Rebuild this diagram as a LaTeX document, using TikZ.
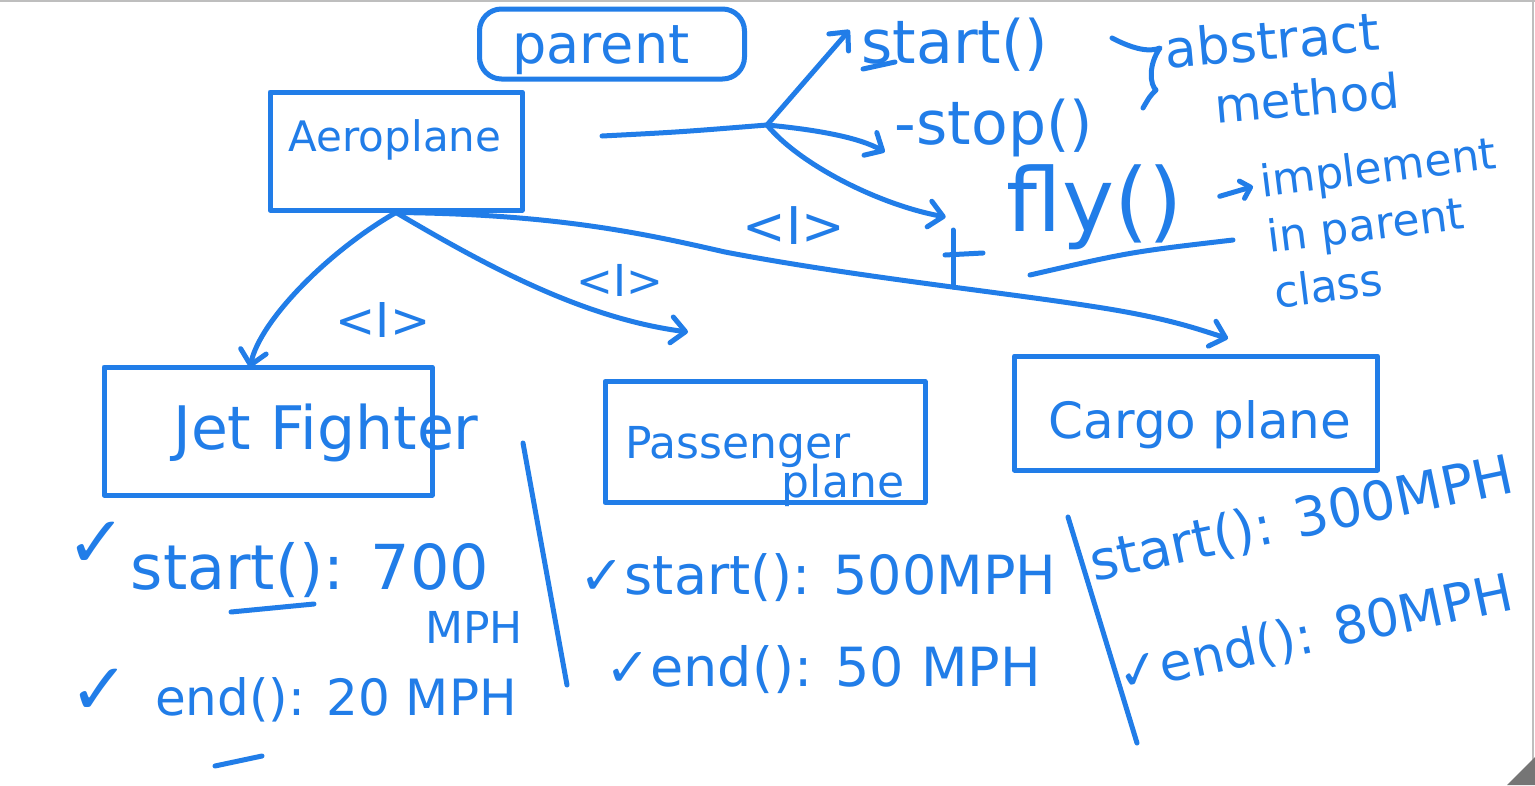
\documentclass[tikz,border=0pt]{standalone}
\usepackage{fontspec}
\setmainfont{DejaVu Sans}
\usetikzlibrary{arrows.meta,calc}
\definecolor{ink}{RGB}{33,125,232}
\definecolor{framegray}{RGB}{190,190,190}
\definecolor{gripgray}{RGB}{117,117,117}
\begin{document}
\begin{tikzpicture}[x=1pt,y=-1pt,
  pen/.style={draw=ink,line width=5pt,line cap=round,line join=round},
  boxnode/.style={pen,rectangle,inner sep=0pt},
  txt/.style={text=ink,inner sep=0pt,font=\fontsize{#1}{#1}\selectfont},
  arr/.style={pen,-{Straight Barb[length=14pt,width=26pt,line cap=round,line join=round]}},
  smallarr/.style={pen,-{Straight Barb[length=9pt,width=18pt,line cap=round,line join=round]}}
]
\useasboundingbox (0,0) rectangle (1535,785);
\fill[white] (0,0) rectangle (1535,785);
\draw[framegray,line width=2pt] (0,1) -- (1535,1);
\draw[framegray,line width=1.5pt] (1533,0) -- (1533,785);
\fill[gripgray] (1507,785) -- (1535,757) -- (1535,785) -- cycle;

% boxes
\node[boxnode,rounded corners=22pt,minimum width=265pt,minimum height=70pt] (parentbox) at (612,44) {};
\node[txt=54] (parenttxt) at (601,50) {parent};
\node[boxnode,minimum width=252pt,minimum height=118pt] (aero) at (396,151) {};
\node[txt=42] (aerotxt) at (395,140) {Aeroplane};
\node[boxnode,minimum width=328pt,minimum height=128pt] (jet) at (268,431) {};
\node[txt=60] (jettxt) at (326,433) {Jet Fighter};
\node[boxnode,minimum width=320pt,minimum height=121pt] (pass) at (765,442) {};
\node[txt=44] (passtxt) at (738,447) {Passenger};
\node[txt=44] (passtxt2) at (843,485) {plane};
\node[boxnode,minimum width=363pt,minimum height=114pt] (cargo) at (1196,413) {};
\node[txt=50] (cargotxt) at (1200,425) {Cargo plane};

% methods
\node[txt=60] (start) at (955,45) {start()};
\node[txt=60] (stop) at (994,128) {-stop()};
\node[txt=88] (fly) at (1095,207) {fly()};
\node[txt=52,rotate=5] (abs1) at (1272,40) {abstract};
\node[txt=48,rotate=5] (abs2) at (1307,98) {method};
\node[text=ink,inner sep=0pt,align=left,rotate=7,font=\fontsize{44}{56}\selectfont] (impl) at (1385,222) {implement\\in parent\\class};

% fork
\coordinate (feed) at (602,136);
\coordinate (fork) at (767,125);
\draw[pen] (feed) .. controls (680,132) .. (fork);
\draw[arr] (fork) -- ([shift={(-12pt,15pt)}]start.west);
\draw[arr] (fork) .. controls (820,130) and (860,138) .. ([shift={(-10pt,-24pt)}]stop.west);
\draw[arr] (fork) .. controls (800,165) and (880,205) .. ([shift={(-61pt,-10pt)}]fly.west);
\draw[smallarr,shorten <=38pt] (fly.east) -- ([shift={(-14pt,50pt)}]impl.west);

% brace to abstract method
\draw[pen] (1112,38) .. controls (1135,50) and (1150,52) .. (1160,48)
  .. controls (1148,65) and (1150,85) .. (1156,90) .. controls (1150,96) .. (1143,108);
% underlines
\draw[pen] (863,69) -- (895,62);
\draw[pen] (1030,275) .. controls (1130,252) .. (1233,240);
\draw[pen] (231,612) -- (314,604);
\draw[pen] (215,766) -- (262,756);

% inheritance arrows
\draw[arr] (aero.south) .. controls (330,250) and (260,320) .. ([shift={(-18pt,-3pt)}]jet.north);
\draw[arr] (aero.south) .. controls (480,262) and (580,318) .. ([shift={(-77pt,47pt)}]pass.north);
\draw[arr] (aero.south) .. controls (560,214) and (650,235) .. (725,252)
  .. controls (850,276) and (1000,292) .. (1090,306)
  .. controls (1170,318) and (1200,330) .. ([shift={(32pt,15pt)}]cargo.north);
% plus mark
\draw[pen] (953,230) -- (953,287);
\draw[pen] (945,255) -- (983,253);

% interface labels
\node[txt=52] (ifc1) at (794,226) {<I>};
\node[txt=44] (ifc2) at (620,280) {<I>};
\node[txt=48] (ifc3) at (383,320) {<I>};

% dividers
\coordinate (d1a) at (523,443);
\coordinate (d1b) at (567,685);
\coordinate (d2a) at (1068,517);
\coordinate (d2b) at (1137,743);
\draw[pen] (d1a) -- (d1b);
\draw[pen] (d2a) -- (d2b);

% speeds
\node[txt=72] (chk1) at (97,545) {✓};
\node[txt=62] (jstart) at (310,570) {start(): 700};
\node[txt=44] (jmph) at (474,627) {MPH};
\node[txt=72] (chk2) at (100,692) {✓};
\node[txt=50] (jend) at (336,700) {end(): 20 MPH};
\node[txt=54] (pstart) at (818,578) {✓start(): 500MPH};
\node[txt=54] (pend) at (823,670) {✓end(): 50 MPH};
\node[txt=54,rotate=12] (cstart) at (1302,520) {start(): 300MPH};
\node[txt=52,rotate=12] (cend) at (1315,635) {✓end(): 80MPH};
\end{tikzpicture}
\end{document}
